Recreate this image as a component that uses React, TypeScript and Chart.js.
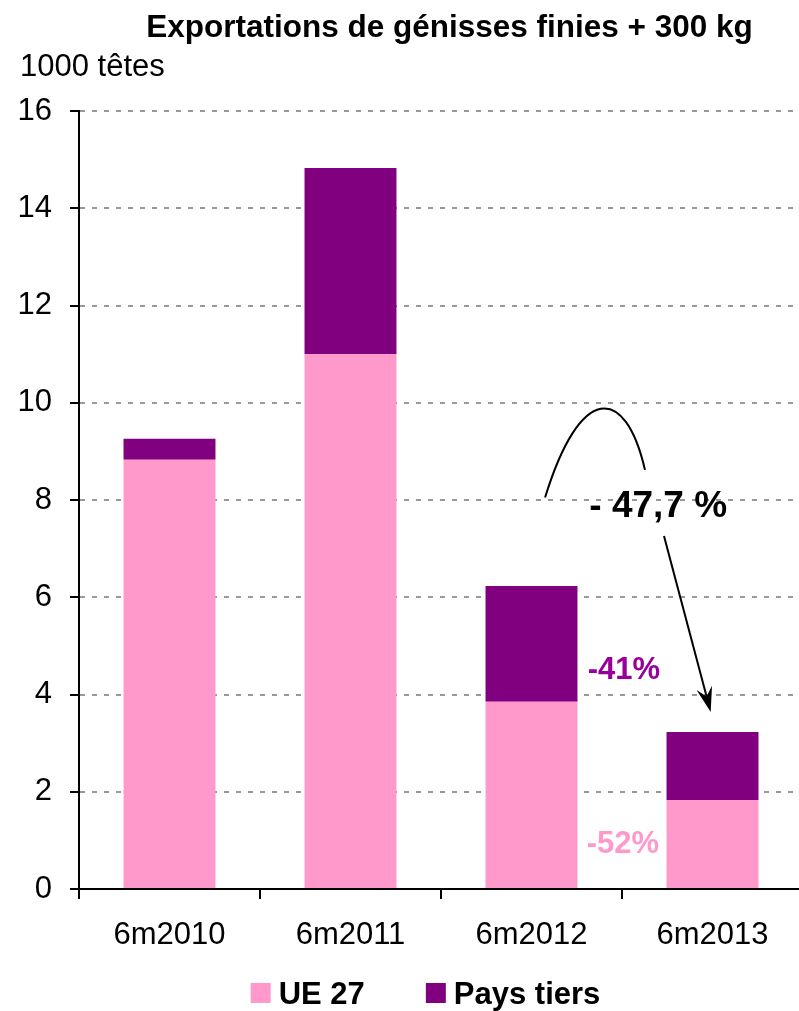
import React, { useEffect, useRef } from 'react';
import { Chart, registerables } from 'chart.js';

Chart.register(...registerables);

const FONT = "'Liberation Sans', Arial, Helvetica, sans-serif";

const titleText = 'Exportations de génisses finies + 300 kg';
const unitText = '1000 têtes';
const categories = ['6m2010', '6m2011', '6m2012', '6m2013'];
const ue27 = [8.83, 11.0, 3.85, 1.83];
const paysTiers = [0.43, 3.83, 2.38, 1.4];
const seriesNames = ['UE 27', 'Pays tiers'];
const seriesColors = ['#FF99CC', '#800080'];
const yMin = 0;
const yMax = 16;
const yStep = 2;

// annotations in data coordinates (category index, value)
const pctLabels = [
  { text: '-41%', x: 2.51, y: 4.55, color: '#990099' },
  { text: '-52%', x: 2.505, y: 0.97, color: '#FF99CC' },
];
const totalLabel = { text: '- 47,7 %', x: 2.7, y: 7.92 };
const arcCurve = [
  [2.075, 8.05],
  [2.268, 10.39],
  [2.517, 10.39],
  [2.627, 8.62],
];
const arrowLine = [
  [2.732, 7.26],
  [2.99, 3.64],
];

const overlayPlugin = {
  id: 'overlay',
  afterDatasetsDraw(chart: any) {
    const { ctx } = chart;
    const xs = chart.scales.x;
    const ys = chart.scales.y;
    const px = (v: number) => xs.getPixelForValue(v);
    const py = (v: number) => ys.getPixelForValue(v);
    ctx.save();
    // arc
    ctx.strokeStyle = '#000';
    ctx.lineWidth = 2;
    ctx.beginPath();
    ctx.moveTo(px(arcCurve[0][0]), py(arcCurve[0][1]));
    ctx.bezierCurveTo(
      px(arcCurve[1][0]), py(arcCurve[1][1]),
      px(arcCurve[2][0]), py(arcCurve[2][1]),
      px(arcCurve[3][0]), py(arcCurve[3][1])
    );
    ctx.stroke();
    // arrow line
    const x0 = px(arrowLine[0][0]);
    const y0 = py(arrowLine[0][1]);
    const x1 = px(arrowLine[1][0]);
    const y1 = py(arrowLine[1][1]);
    const len = Math.hypot(x1 - x0, y1 - y0);
    const dx = (x1 - x0) / len;
    const dy = (y1 - y0) / len;
    const nx = -dy;
    const ny = dx;
    ctx.beginPath();
    ctx.moveTo(x0, y0);
    ctx.lineTo(x1 - dx * 10, y1 - dy * 10);
    ctx.stroke();
    ctx.fillStyle = '#000';
    ctx.beginPath();
    ctx.moveTo(x1, y1);
    ctx.lineTo(x1 - dx * 25 + nx * 8, y1 - dy * 25 + ny * 8);
    ctx.lineTo(x1 - dx * 16, y1 - dy * 16);
    ctx.lineTo(x1 - dx * 25 - nx * 8, y1 - dy * 25 - ny * 8);
    ctx.closePath();
    ctx.fill();
    // texts
    ctx.textAlign = 'center';
    ctx.textBaseline = 'alphabetic';
    ctx.font = `bold 37px ${FONT}`;
    ctx.fillStyle = '#000';
    ctx.fillText(totalLabel.text, px(totalLabel.x), py(totalLabel.y) + 0.358 * 37);
    ctx.font = `bold 31px ${FONT}`;
    pctLabels.forEach((l) => {
      ctx.fillStyle = l.color;
      ctx.fillText(l.text, px(l.x), py(l.y) + 0.358 * 31);
    });
    ctx.restore();
  },
  afterDraw(chart: any) {
    const { ctx } = chart;
    ctx.save();
    ctx.textBaseline = 'alphabetic';
    // title
    ctx.fillStyle = '#000';
    ctx.font = `bold 31.5px ${FONT}`;
    ctx.textAlign = 'center';
    ctx.fillText(titleText, 449.5, 37);
    // unit
    ctx.font = `31px ${FONT}`;
    ctx.textAlign = 'left';
    ctx.fillText(unitText, 20, 76);
    // legend
    ctx.font = `bold 31px ${FONT}`;
    const box = 20;
    const gap = 8;
    const spacing = 61;
    const widths = chart.data.datasets.map((d: any) => ctx.measureText(d.label).width);
    const total = widths.reduce((a: number, w: number) => a + box + gap + w, 0) + spacing * (widths.length - 1);
    let lx = 425.5 - total / 2;
    const boxTop = 983;
    chart.data.datasets.forEach((d: any, i: number) => {
      ctx.fillStyle = d.backgroundColor;
      ctx.fillRect(lx, boxTop, box, box);
      ctx.fillStyle = '#000';
      ctx.fillText(d.label, lx + box + gap, 1003.5);
      lx += box + gap + widths[i] + spacing;
    });
    ctx.restore();
  },
};

export default function App() {
  const canvasRef = useRef<HTMLCanvasElement | null>(null);

  useEffect(() => {
    if (!canvasRef.current) return;
    const chart = new Chart(canvasRef.current, {
      type: 'bar',
      data: {
        labels: categories,
        datasets: [
          {
            label: seriesNames[0],
            data: ue27,
            backgroundColor: seriesColors[0],
            borderWidth: 0,
            categoryPercentage: 1,
            barPercentage: 0.508,
          },
          {
            label: seriesNames[1],
            data: paysTiers,
            backgroundColor: seriesColors[1],
            borderWidth: 0,
            categoryPercentage: 1,
            barPercentage: 0.508,
          },
        ],
      },
      options: {
        responsive: false,
        animation: false,
        devicePixelRatio: 1,
        layout: { padding: { top: 111, left: 0, right: 0, bottom: 0 } },
        plugins: {
          legend: { display: false },
          title: { display: false },
          tooltip: { enabled: false },
        },
        scales: {
          x: {
            stacked: true,
            afterFit: (scale: any) => {
              scale.height = 122;
            },
            grid: {
              drawOnChartArea: false,
              drawTicks: true,
              tickLength: 10,
              tickColor: '#000',
              tickWidth: 2,
              color: '#000',
              lineWidth: 2,
              offset: true,
            },
            border: { display: true, color: '#000', width: 2 },
            ticks: {
              color: '#000',
              padding: 18,
              font: { family: FONT, size: 31 },
            },
          },
          y: {
            stacked: true,
            min: yMin,
            max: yMax,
            afterFit: (scale: any) => {
              scale.width = 79;
            },
            grid: {
              color: (c: any) => (c.tick && c.tick.value === 0 ? 'rgba(0,0,0,0)' : '#999999'),
              lineWidth: 2,
              drawTicks: true,
              tickLength: 9,
              tickColor: '#000',
              tickWidth: 2,
            },
            border: { display: true, color: '#000', width: 2, dash: [5, 7] },
            ticks: {
              stepSize: yStep,
              color: '#000',
              padding: 18,
              font: { family: FONT, size: 31 },
            },
          },
        },
      },
      plugins: [overlayPlugin],
    });
    return () => chart.destroy();
  }, []);

  return (
    <div
      style={{
        position: 'absolute',
        left: 0,
        top: 0,
        width: 799,
        height: 1011,
        overflow: 'hidden',
        background: '#fff',
      }}
    >
      <canvas ref={canvasRef} width={803} height={1011} style={{ display: 'block' }} />
    </div>
  );
}
